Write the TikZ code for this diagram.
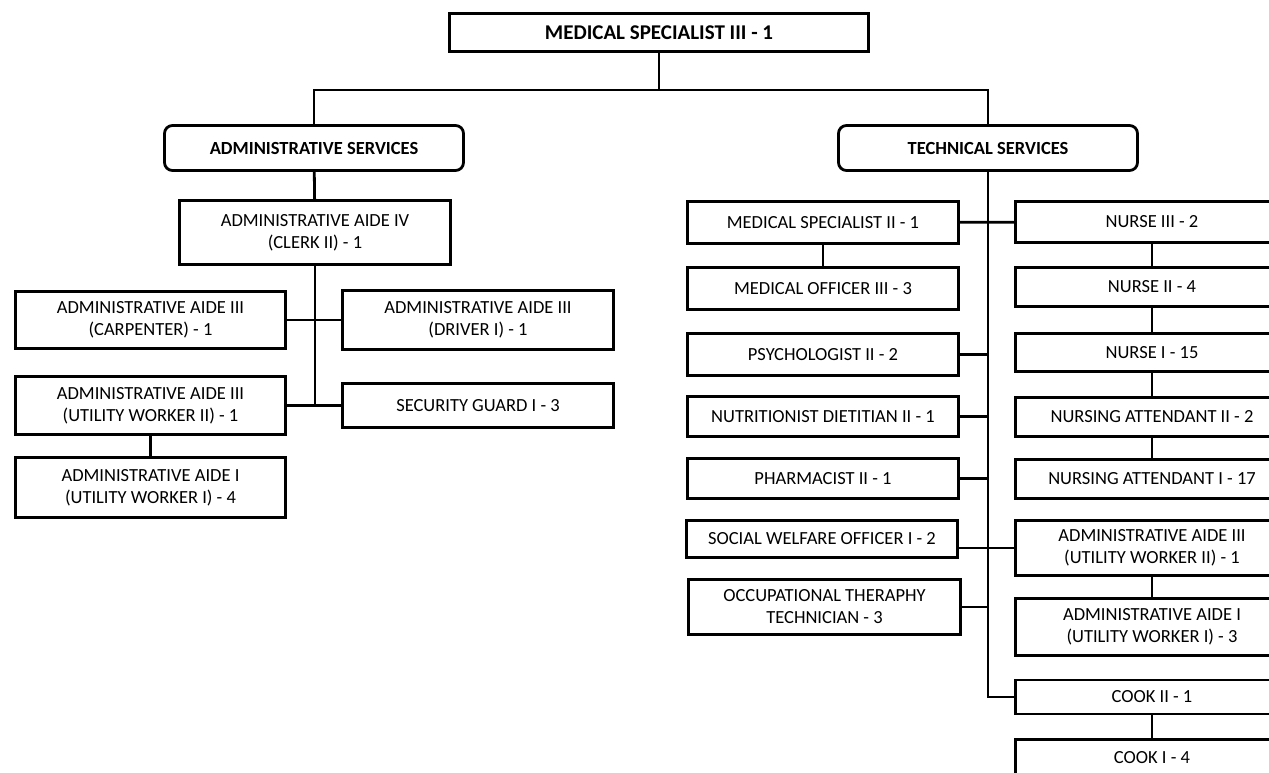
\documentclass[tikz,border=0pt]{standalone}
\usepackage{fontspec}
\setmainfont{Carlito}
\begin{document}
\begin{tikzpicture}[x=1pt,y=-1pt,
  every node/.style={inner sep=0pt,outer sep=0pt,align=center,
    font=\fontsize{18.5}{22}\selectfont},
  post/.style={draw,line width=2.8pt,fill=white},
  unit/.style={post,rounded corners=8pt,font=\fontsize{18.5}{22}\selectfont\bfseries},
  head/.style={post,font=\fontsize{21}{25}\selectfont\bfseries},
  link/.style={line width=2.8pt}]
\useasboundingbox (0,0) rectangle (1269,773);
\fill[white] (0,0) rectangle (1269,773);
\clip (0,0) rectangle (1269,773);

% head of office
\node[head,minimum width=419,minimum height=38] (top) at (659,32.5) {MEDICAL SPECIALIST III - 1};

% the two services
\node[unit,minimum width=299,minimum height=45] (adm) at (314,148) {ADMINISTRATIVE SERVICES};
\node[unit,minimum width=299,minimum height=45] (tech) at (988,148) {TECHNICAL SERVICES};

% administrative services
\node[post,minimum width=271,minimum height=64] (aide4) at (315,232.5) {ADMINISTRATIVE AIDE IV\\(CLERK II) - 1};
\node[post,minimum width=270,minimum height=57] (carp) at (150.5,320) {ADMINISTRATIVE AIDE III\\(CARPENTER) - 1};
\node[post,minimum width=271,minimum height=59] (driver) at (478,320) {ADMINISTRATIVE AIDE III\\(DRIVER I) - 1};
\node[post,minimum width=270,minimum height=58] (utilA) at (150.5,405.5) {ADMINISTRATIVE AIDE III\\(UTILITY WORKER II) - 1};
\node[post,minimum width=271,minimum height=44] (guard) at (478,405.5) {SECURITY GUARD I - 3};
\node[post,minimum width=270,minimum height=60] (utilB) at (150.5,487.5) {ADMINISTRATIVE AIDE I\\(UTILITY WORKER I) - 4};

% technical services, left column
\node[post,minimum width=271,minimum height=42] (ms2) at (823,222.5) {MEDICAL SPECIALIST II - 1};
\node[post,minimum width=271,minimum height=42] (mo3) at (823,288.5) {MEDICAL OFFICER III - 3};
\node[post,minimum width=271,minimum height=42] (psy) at (823,354.5) {PSYCHOLOGIST II - 2};
\node[post,minimum width=271,minimum height=40] (nut) at (823,416.5) {NUTRITIONIST DIETITIAN II - 1};
\node[post,minimum width=271,minimum height=40] (pha) at (823,478.5) {PHARMACIST II - 1};
\node[post,minimum width=271,minimum height=37] (swo) at (822,539) {SOCIAL WELFARE OFFICER I - 2};
\node[post,minimum width=272,minimum height=55] (oth) at (824.5,607) {OCCUPATIONAL THERAPHY\\TECHNICIAN - 3};

% technical services, right column
\node[post,minimum width=273,minimum height=41] (n3) at (1152,222) {NURSE III - 2};
\node[post,minimum width=273,minimum height=39] (n2) at (1152,287) {NURSE II - 4};
\node[post,minimum width=273,minimum height=38] (n1) at (1152,352.5) {NURSE I - 15};
\node[post,minimum width=273,minimum height=39] (na2) at (1152,417) {NURSING ATTENDANT II - 2};
\node[post,minimum width=273,minimum height=39] (na1) at (1152,479) {NURSING ATTENDANT I - 17};
\node[post,minimum width=273,minimum height=55] (utilC) at (1152,548) {ADMINISTRATIVE AIDE III\\(UTILITY WORKER II) - 1};
\node[post,minimum width=273,minimum height=57] (utilD) at (1152,627) {ADMINISTRATIVE AIDE I\\(UTILITY WORKER I) - 3};
\node[post,minimum width=273,minimum height=34] (ck2) at (1152,697) {COOK II - 1};
\node[post,minimum width=273,minimum height=37] (ck1) at (1152,758) {COOK I - 4};

% connectors
\coordinate (bar) at (659,90);
\coordinate (ajoin) at (315,405.5);
\draw[link] (top) -- (bar);
\draw[link] (adm.north) |- (bar) -| (tech.north);
\draw[link] (adm) -- (aide4);
\draw[link] (aide4) -- (ajoin);
\draw[link] (carp) -- (driver);
\draw[link] (utilA) -- (guard);
\draw[link] (utilA) -- (utilB);

\draw[link] (tech.south) |- (ck2.west);
\draw[link] (ms2) -- (n3);
\draw[link] (ms2) -- (mo3);
\draw[link] (psy.east) -- (psy.east -| tech.south);
\draw[link] (nut.east) -- (nut.east -| tech.south);
\draw[link] (pha.east) -- (pha.east -| tech.south);
\draw[link] (oth.east) -- (oth.east -| tech.south);
\draw[link] (swo.east |- utilC.west) -- (utilC.west);
\draw[link] (n3) -- (n2);
\draw[link] (n2) -- (n1);
\draw[link] (n1) -- (na2);
\draw[link] (na2) -- (na1);
\draw[link] (utilC) -- (utilD);
\draw[link] (ck2) -- (ck1);
\end{tikzpicture}
\end{document}
